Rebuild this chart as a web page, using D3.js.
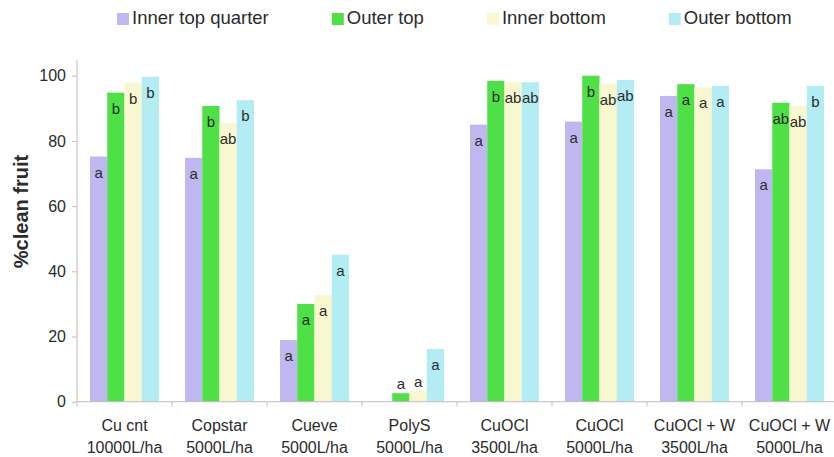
<!DOCTYPE html>
<html>
<head>
<meta charset="utf-8">
<script src="https://cdn.jsdelivr.net/npm/d3@7"></script>
<style>
  html, body { margin: 0; padding: 0; background: #fff; }
  svg { display: block; font-family: "Liberation Sans", Arial, sans-serif; }
</style>
</head>
<body>
<svg id="chart" width="834" height="457"></svg>
<script>
// Treatments (product and spray volume)
const products = ["Cu cnt", "Copstar", "Cueve", "PolyS", "CuOCl", "CuOCl", "CuOCl + W", "CuOCl + W"];
const volumes  = ["10000L/ha", "5000L/ha", "5000L/ha", "5000L/ha", "3500L/ha", "5000L/ha", "3500L/ha", "5000L/ha"];

// Canopy positions
const seriesNames = ["Inner top quarter", "Outer top", "Inner bottom", "Outer bottom"];
const seriesColors = ["#bfb7ef", "#4fe047", "#f9f7cf", "#b3edf3"];

// % clean fruit per position
const innerTop    = [75.2, 74.8, 18.9, 0,   85.0, 85.9, 93.8, 71.3];
const outerTop    = [94.8, 90.7, 30.0, 2.6, 98.4, 100,  97.4, 91.7];
const innerBottom = [97.9, 85.4, 32.7, 3.3, 98.0, 97.5, 96.4, 90.7];
const outerBottom = [99.7, 92.5, 45.1, 16.2, 98.0, 98.7, 96.9, 96.9];

// Significance letters
const innerTopSig    = ["a", "a", "a", "",  "a",  "a",  "a", "a"];
const outerTopSig    = ["b", "b", "a", "a", "b",  "b",  "a", "ab"];
const innerBottomSig = ["b", "ab", "a", "a", "ab", "ab", "a", "ab"];
const outerBottomSig = ["b", "b", "a", "a", "ab", "ab", "a", "b"];

const yTicks = [0, 20, 40, 60, 80, 100];

const seriesValues = [innerTop, outerTop, innerBottom, outerBottom];
const seriesSig = [innerTopSig, outerTopSig, innerBottomSig, outerBottomSig];

const svg = d3.select("#chart");

const x0 = d3.scaleBand().domain(d3.range(products.length)).range([77, 837]).paddingInner(0).paddingOuter(0);
const x1 = d3.scaleBand().domain(d3.range(seriesNames.length)).range([13, 82]).padding(0);
const y = d3.scaleLinear().domain([0, 100]).range([401.7, 75.7]);

const axisColor = "#bdbdbd";
const textColor = "#2b2b2b";

// Bars
const groups = svg.append("g").selectAll("g")
  .data(d3.range(products.length))
  .join("g")
  .attr("transform", i => `translate(${x0(i)},0)`);

groups.selectAll("rect")
  .data(i => seriesValues.map((vals, s) => ({ s, v: vals[i], sig: seriesSig[s][i] })))
  .join("rect")
  .attr("x", d => x1(d.s))
  .attr("width", x1.bandwidth())
  .attr("y", d => y(d.v))
  .attr("height", d => y(0) - y(d.v))
  .attr("fill", d => seriesColors[d.s]);

// Significance letters inside the bar tops (above very short bars)
groups.selectAll("text.sig")
  .data(i => seriesValues.map((vals, s) => ({ s, v: vals[i], sig: seriesSig[s][i] })))
  .join("text")
  .attr("class", "sig")
  .attr("x", d => x1(d.s) + x1.bandwidth() / 2)
  .attr("y", d => (y(0) - y(d.v) < 30) ? y(d.v) - 4 : y(d.v) + 21)
  .attr("text-anchor", "middle")
  .attr("font-size", 15)
  .attr("fill", textColor)
  .text(d => d.sig);

// Y axis
const yAxis = svg.append("g")
  .attr("transform", "translate(77,0)")
  .call(d3.axisLeft(y).tickValues(yTicks).tickSize(5).tickSizeOuter(0).tickPadding(6));
yAxis.select(".domain").remove();
yAxis.append("line")
  .attr("x1", 0).attr("x2", 0)
  .attr("y1", y(0)).attr("y2", 60)
  .attr("stroke", axisColor);
yAxis.selectAll(".tick line").attr("stroke", axisColor);
yAxis.selectAll(".tick text")
  .attr("font-size", 16)
  .attr("font-family", "Liberation Sans, Arial, sans-serif")
  .attr("fill", textColor);

// X axis with ticks at category boundaries
const xg = svg.append("g");
xg.append("line")
  .attr("x1", 77).attr("x2", 834)
  .attr("y1", y(0)).attr("y2", y(0))
  .attr("stroke", axisColor);
xg.selectAll("line.tick")
  .data(d3.range(products.length + 1))
  .join("line")
  .attr("class", "tick")
  .attr("x1", i => i < products.length ? x0(i) : x0(i - 1) + x0.bandwidth())
  .attr("x2", i => i < products.length ? x0(i) : x0(i - 1) + x0.bandwidth())
  .attr("y1", y(0)).attr("y2", y(0) + 5)
  .attr("stroke", axisColor);

const xl = xg.selectAll("text.cat")
  .data(d3.range(products.length))
  .join("text")
  .attr("class", "cat")
  .attr("text-anchor", "middle")
  .attr("font-size", 16)
  .attr("fill", textColor);
xl.append("tspan")
  .attr("x", i => x0(i) + x0.bandwidth() / 2)
  .attr("y", 431)
  .text(i => products[i]);
xl.append("tspan")
  .attr("x", i => x0(i) + x0.bandwidth() / 2)
  .attr("y", 453)
  .text(i => volumes[i]);

// Y axis title
svg.append("text")
  .attr("transform", "translate(27.5,211.5) rotate(-90)")
  .attr("text-anchor", "middle")
  .attr("font-size", 20)
  .attr("font-weight", "bold")
  .attr("fill", textColor)
  .text("%clean fruit");

// Legend laid out left to right
const legend = svg.append("g");
let lx = 117;
seriesNames.forEach((name, s) => {
  legend.append("rect")
    .attr("x", lx).attr("y", 13)
    .attr("width", 12).attr("height", 12)
    .attr("fill", seriesColors[s]);
  const t = legend.append("text")
    .attr("x", lx + 15).attr("y", 24)
    .attr("font-size", 18.5)
    .attr("fill", textColor)
    .text(name);
  lx = lx + 15 + t.node().getComputedTextLength() + 63;
});
</script>
</body>
</html>
